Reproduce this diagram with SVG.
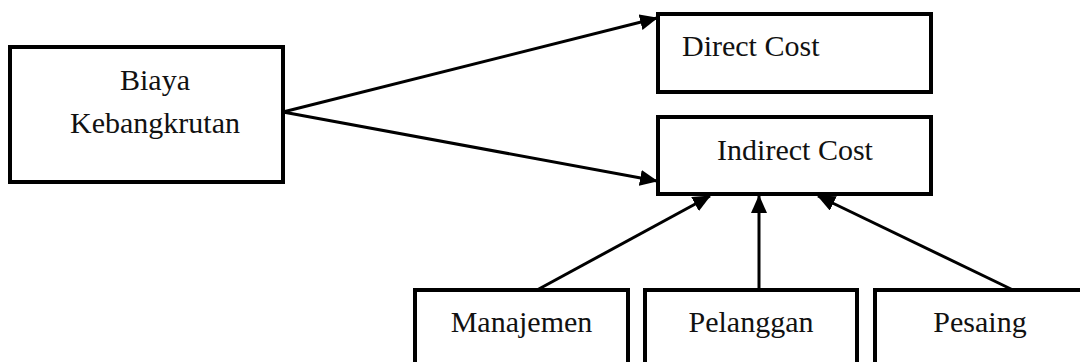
<svg xmlns="http://www.w3.org/2000/svg" width="1080" height="362" viewBox="0 0 1080 362">
<style>
.box{fill:#fff;stroke:#000;stroke-width:4}
.lbl{font-family:"Liberation Serif","Times New Roman",serif;font-size:30px;fill:#111}
.c{text-anchor:middle}
.edge{stroke:#000;stroke-width:3;fill:none}
</style>
<defs>
<marker id="ah" markerUnits="userSpaceOnUse" markerWidth="20" markerHeight="16" refX="17" refY="8" orient="auto">
<path d="M0,0 L18,8 L0,16 Z" fill="#000"/>
</marker>
</defs>
<rect width="1080" height="362" fill="#fff"/>
<g id="biaya">
<rect class="box" x="10" y="47" width="273" height="135"/>
<text class="lbl c" x="155" y="90">Biaya</text>
<text class="lbl c" x="155" y="133">Kebangkrutan</text>
</g>
<g id="direct">
<rect class="box" x="658" y="14" width="273" height="78"/>
<text class="lbl" x="682" y="56">Direct Cost</text>
</g>
<g id="indirect">
<rect class="box" x="658" y="117" width="273" height="77"/>
<text class="lbl c" x="795" y="160">Indirect Cost</text>
</g>
<g id="manajemen">
<rect class="box" x="415" y="290" width="213" height="90"/>
<text class="lbl c" x="521.5" y="332">Manajemen</text>
</g>
<g id="pelanggan">
<rect class="box" x="645" y="290" width="212" height="90"/>
<text class="lbl c" x="751" y="332">Pelanggan</text>
</g>
<g id="pesaing">
<rect class="box" x="875" y="290" width="220" height="90"/>
<text class="lbl c" x="980" y="332">Pesaing</text>
</g>
<g id="connectors">
<line class="edge" x1="283" y1="112" x2="657" y2="18" marker-end="url(#ah)"/>
<line class="edge" x1="283" y1="112" x2="657" y2="181" marker-end="url(#ah)"/>
<line class="edge" x1="537" y1="290" x2="710" y2="196" marker-end="url(#ah)"/>
<line class="edge" x1="759" y1="290" x2="759" y2="196" marker-end="url(#ah)"/>
<line class="edge" x1="1013" y1="290" x2="818" y2="196" marker-end="url(#ah)"/>
</g>
</svg>
